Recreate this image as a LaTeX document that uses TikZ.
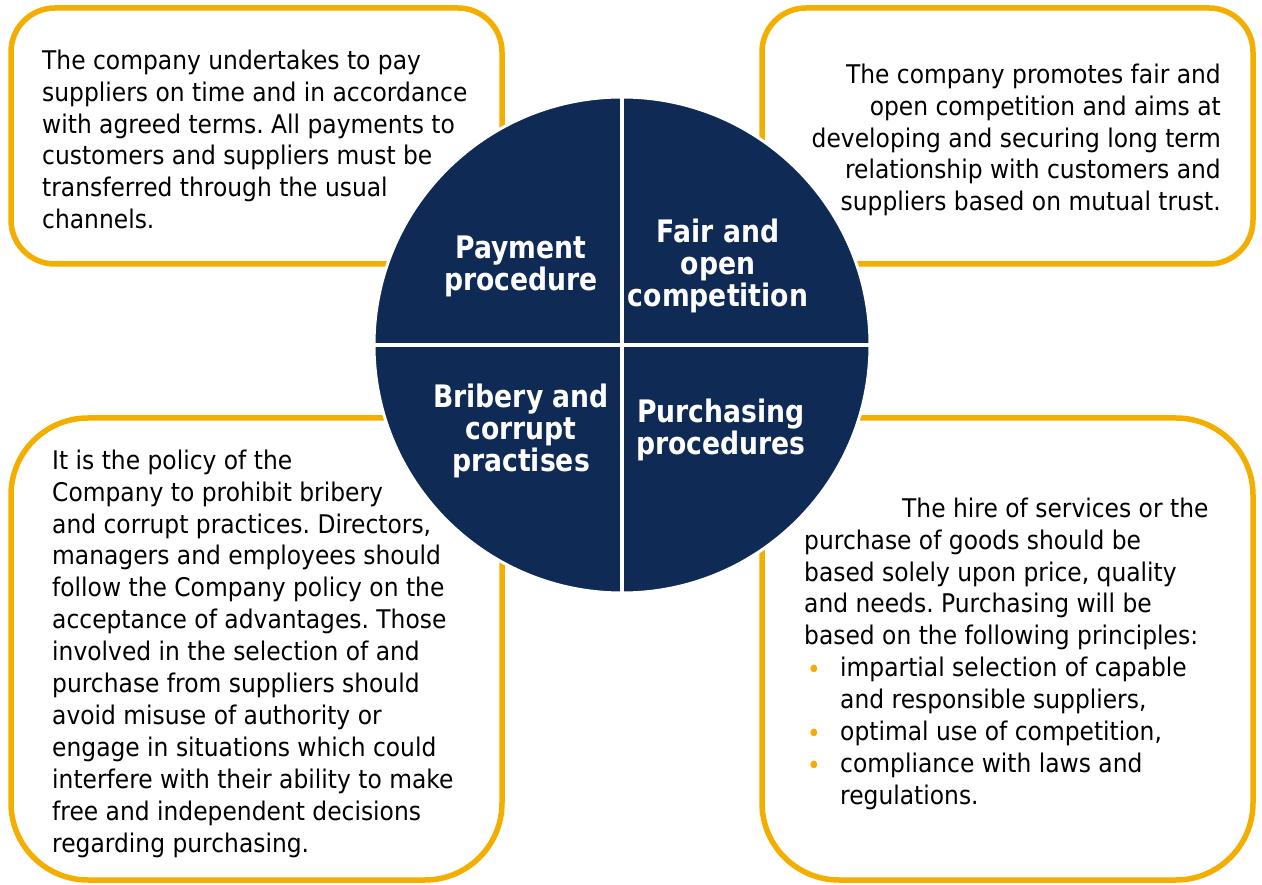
\documentclass[tikz,border=0pt]{standalone}
\usepackage{fontspec}
\setmainfont{DejaVu Sans}[FakeStretch=0.91]
\newfontfamily\headfont{DejaVu Sans}[FakeStretch=0.86]
\definecolor{navy}{HTML}{0E2A55}
\definecolor{gold}{HTML}{F3AE00}
\frenchspacing
\begin{document}
\begin{tikzpicture}[x=1pt,y=-1pt,
  panel/.style={draw=gold, line width=5.5pt, fill=white, minimum width=491pt},
  body/.style={font=\fontsize{25.7}{31.9}\selectfont, inner sep=0pt, anchor=north west, align=left},
  title/.style={font=\headfont\fontsize{31}{32}\selectfont\bfseries, text=white, align=center, inner sep=0pt},
  dot/.style={font=\fontsize{25.7}{31.9}\selectfont, text=gold, inner sep=0pt, anchor=base west}]
\useasboundingbox (0,0) rectangle (1262,885);
% four rounded panels
\node[panel, minimum height=256pt, rounded corners=44pt] (tl) at (256.5,136) {};
\node[panel, minimum height=256pt, rounded corners=44pt] (tr) at (1007.5,136) {};
\node[panel, minimum height=462pt, rounded corners=77pt] (bl) at (256.5,649) {};
\node[panel, minimum height=462pt, rounded corners=77pt] (br) at (1007.5,649) {};
% central disc split into quadrants
\node[circle, fill=navy, draw=white, line width=3pt, minimum size=496pt, inner sep=0pt] (c) at (622,345) {};
\draw[white, line width=3.5pt] (c.north) -- (c.south);
\draw[white, line width=3.5pt] (c.west) -- (c.east);
% quadrant titles
\node[title] (t1) at (521,266) {Payment\\procedure};
\node[title] (t2) at (718,266) {Fair and\\open\\competition};
\node[title] (t3) at (521,431) {Bribery and\\corrupt\\practises};
\node[title] (t4) at (721,430) {Purchasing\\procedures};
% panel texts
\node[body] (x1) at (42,49.5) {The company undertakes to pay\\suppliers on time and in accordance\\with agreed terms. All payments to\\customers and suppliers must be\\transferred through the usual\\channels.};
\node[body, anchor=north east, align=right] (x2) at (1221,63.5) {The company promotes fair and\\open competition and aims at\\developing and securing long term\\relationship with customers and\\suppliers based on mutual trust.};
\node[body] (x3) at (52,449.5) {It is the policy of the\\Company to prohibit bribery\\and corrupt practices. Directors,\\managers and employees should\\follow the Company policy on the\\acceptance of advantages. Those\\involved in the selection of and\\purchase from suppliers should\\avoid misuse of authority or\\engage in situations which could\\interfere with their ability to make\\free and independent decisions\\regarding purchasing.};
\node[body] (x4) at (804,497.5) {\hspace*{98pt}The hire of services or the\\purchase of goods should be\\based solely upon price, quality\\and needs. Purchasing will be\\based on the following principles:};
\node[body] (x5) at (840,657.2) {impartial selection of capable\\and responsible suppliers,\\optimal use of competition,\\compliance with laws and\\regulations.};
\node[dot] (d1) at (807,678.5) {•};
\node[dot] (d2) at (807,742.3) {•};
\node[dot] (d3) at (807,774.2) {•};
\end{tikzpicture}
\end{document}
